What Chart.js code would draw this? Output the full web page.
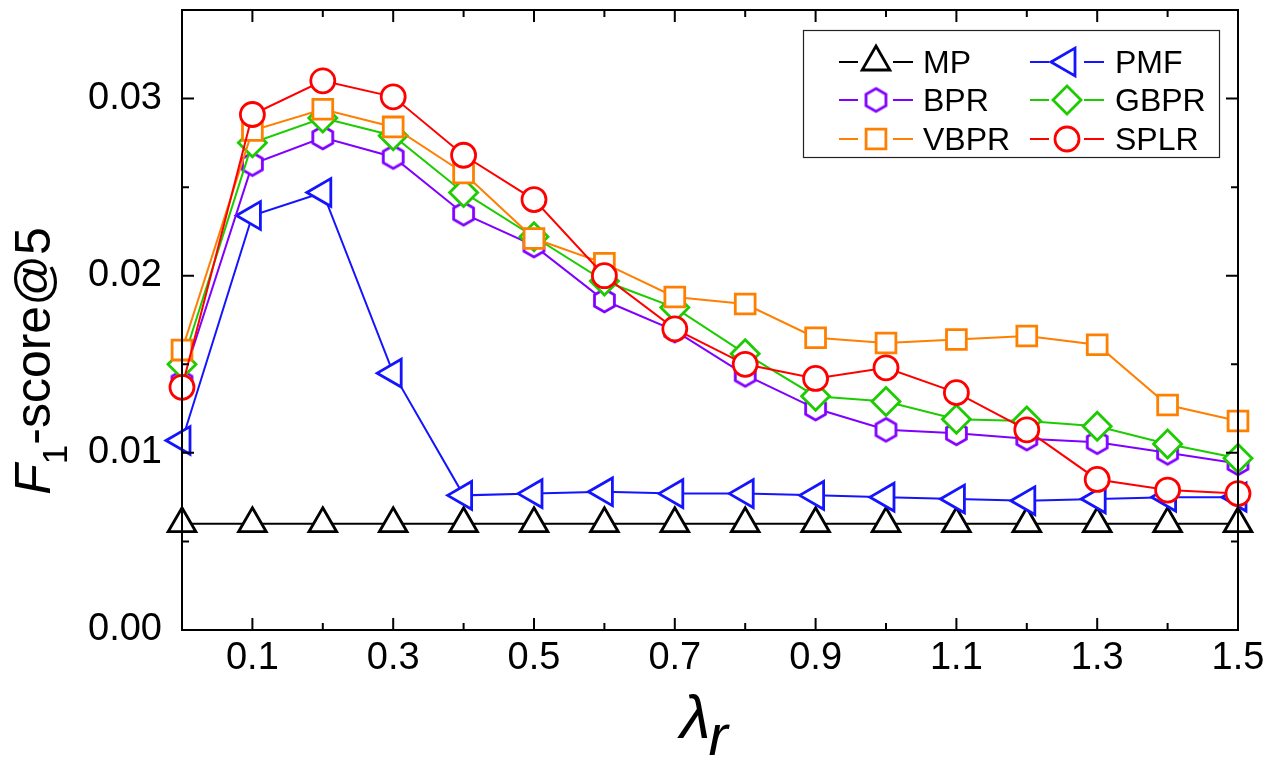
<!DOCTYPE html>
<html>
<head>
<meta charset="utf-8">
<script src="https://cdn.jsdelivr.net/npm/chart.js@4.4.1/dist/chart.umd.min.js"></script>
<style>
  html, body { margin: 0; padding: 0; background: #fff; }
  #wrap { width: 1273px; height: 766px; }
</style>
</head>
<body>
<div id="wrap"><canvas id="grafico" width="1273" height="766"></canvas></div>
<script>
// lambda_r values on the x axis
const lambdas = [0.0, 0.1, 0.2, 0.3, 0.4, 0.5, 0.6, 0.7, 0.8, 0.9, 1.0, 1.1, 1.2, 1.3, 1.4, 1.5];

// F1-score@5 for each method
const mp   = [0.0060, 0.0060, 0.0060, 0.0060, 0.0060, 0.0060, 0.0060, 0.0060, 0.0060, 0.0060, 0.0060, 0.0060, 0.0060, 0.0060, 0.0060, 0.0060];
const pmf  = [0.0107, 0.0234, 0.0247, 0.0145, 0.0076, 0.0077, 0.0078, 0.0077, 0.0077, 0.0076, 0.0075, 0.0074, 0.0073, 0.0074, 0.0075, 0.0075];
const bpr  = [0.0140, 0.0263, 0.0278, 0.0267, 0.0235, 0.0217, 0.0186, 0.0169, 0.0144, 0.0125, 0.0113, 0.0111, 0.0108, 0.0106, 0.0100, 0.0094];
const gbpr = [0.0150, 0.0275, 0.0289, 0.0279, 0.0247, 0.0222, 0.0197, 0.0182, 0.0156, 0.0132, 0.0129, 0.0119, 0.0118, 0.0115, 0.0105, 0.0097];
const vbpr = [0.0158, 0.0282, 0.0294, 0.0284, 0.0258, 0.0221, 0.0207, 0.0188, 0.0184, 0.0165, 0.0162, 0.0164, 0.0166, 0.0161, 0.0127, 0.0118];
const splr = [0.0137, 0.0291, 0.0310, 0.0301, 0.0268, 0.0243, 0.0200, 0.0170, 0.0150, 0.0142, 0.0148, 0.0134, 0.0113, 0.0085, 0.0079, 0.0077];

const xTicks = [0.1, 0.3, 0.5, 0.7, 0.9, 1.1, 1.3, 1.5];
const yTicks = [0.00, 0.01, 0.02, 0.03];

const FONT = "'Liberation Sans', Arial, sans-serif";

// hexagon marker (not built into Chart.js)
function makeHexagon(color, r, lw) {
  const c = document.createElement('canvas');
  const s = Math.ceil(2 * (r + lw));
  c.width = s; c.height = s;
  const g = c.getContext('2d');
  g.beginPath();
  for (let i = 0; i < 6; i++) {
    const a = -Math.PI / 2 + i * Math.PI / 3;
    const px = s / 2 + r * Math.cos(a), py = s / 2 + r * Math.sin(a);
    if (i === 0) g.moveTo(px, py); else g.lineTo(px, py);
  }
  g.closePath();
  g.fillStyle = '#fff';
  g.fill();
  g.lineWidth = lw;
  g.strokeStyle = color;
  g.stroke();
  return c;
}
const hexImg = makeHexagon('#8000ff', 11.5, 2.8);

function serie(label, values, color, style, radius, rotation, order) {
  return {
    label: label,
    data: values.map((v, i) => ({ x: lambdas[i], y: v })),
    borderColor: color,
    borderWidth: 2,
    pointStyle: style,
    pointRadius: radius,
    pointHoverRadius: radius,
    pointRotation: rotation,
    pointBorderColor: color,
    pointBackgroundColor: '#fff',
    pointBorderWidth: 2.8,
    clip: false,
    order: order,
    tension: 0
  };
}

const datasets = [
  serie('MP',   mp,   '#000000', 'triangle', 16, 0,   6),
  serie('PMF',  pmf,  '#1414ff', 'triangle', 16, 270, 5),
  serie('BPR',  bpr,  '#8000ff', hexImg,     12, 0,   4),
  serie('GBPR', gbpr, '#1ccc00', 'rectRot',  14, 0,   3),
  serie('VBPR', vbpr, '#ff7f00', 'rect',     14, 0,   2),
  serie('SPLR', splr, '#ff0000', 'circle',   12, 0,   1)
];

function noPad(s) {
  s.paddingTop = 0; s.paddingBottom = 0; s.paddingLeft = 0; s.paddingRight = 0;
}

// frame, inward ticks, axis titles and legend box
const decorPlugin = {
  id: 'decor',
  afterDraw(chart) {
    const ctx = chart.ctx;
    const a = chart.chartArea;
    const xs = chart.scales.x, ys = chart.scales.y;
    ctx.save();
    ctx.strokeStyle = '#000';
    ctx.lineWidth = 2;
    ctx.strokeRect(a.left, a.top, a.right - a.left, a.bottom - a.top);

    ctx.beginPath();
    for (let i = 1; i < 15; i++) {
      const px = xs.getPixelForValue(i / 10);
      const L = (i % 2 === 1) ? 12 : 7;
      ctx.moveTo(px, a.bottom); ctx.lineTo(px, a.bottom - L);
      ctx.moveTo(px, a.top); ctx.lineTo(px, a.top + L);
    }
    for (let j = 1; j <= 6; j++) {
      const py = ys.getPixelForValue(j * 0.005);
      const L = (j % 2 === 0) ? 12 : 7;
      ctx.moveTo(a.left, py); ctx.lineTo(a.left + L, py);
      ctx.moveTo(a.right, py); ctx.lineTo(a.right - L, py);
    }
    ctx.stroke();

    // y title: F1-score@5
    ctx.fillStyle = '#000';
    ctx.textBaseline = 'alphabetic';
    ctx.textAlign = 'left';
    const fMain = "italic 50px " + FONT, fSub = "35px " + FONT, fTxt = "50px " + FONT;
    ctx.font = fMain; const wF = ctx.measureText('F').width;
    ctx.font = fSub;  const w1 = ctx.measureText('1').width;
    ctx.font = fTxt;  const wT = ctx.measureText('-score@5').width;
    const tot = wF + w1 + wT;
    ctx.save();
    ctx.translate(50, 361);
    ctx.rotate(-Math.PI / 2);
    let cx = -tot / 2;
    ctx.font = fMain; ctx.fillText('F', cx, 0); cx += wF;
    ctx.font = fSub;  ctx.fillText('1', cx, 17); cx += w1;
    ctx.font = fTxt;  ctx.fillText('-score@5', cx, 0);
    ctx.restore();

    // x title: lambda_r
    ctx.font = "italic 62px " + FONT;
    const wl = ctx.measureText('λ').width;
    ctx.fillText('λ', 680, 738);
    ctx.font = "italic 58px " + FONT;
    ctx.fillText('r', 680 + wl - 2, 755);

    // legend
    ctx.fillStyle = '#fff';
    ctx.fillRect(803, 30, 416, 127);
    ctx.lineWidth = 1.2;
    ctx.strokeStyle = '#222';
    ctx.strokeRect(803.5, 30.5, 416, 127);
    const rows = [62, 100, 139];
    const cols = [{ cx: 876, tx: 923 }, { cx: 1067, tx: 1115 }];
    datasets.forEach((d, k) => {
      const col = cols[k % 2], y = rows[Math.floor(k / 2)];
      ctx.strokeStyle = d.borderColor;
      ctx.lineWidth = 2;
      ctx.beginPath();
      ctx.moveTo(col.cx - 37, y); ctx.lineTo(col.cx - 18, y);
      ctx.moveTo(col.cx + 17, y); ctx.lineTo(col.cx + 37, y);
      ctx.stroke();
      ctx.fillStyle = '#fff';
      ctx.lineWidth = d.pointBorderWidth;
      Chart.helpers.drawPoint(ctx, {
        pointStyle: d.pointStyle, rotation: d.pointRotation,
        radius: d.pointRadius, borderWidth: d.pointBorderWidth
      }, col.cx, y);
      ctx.fillStyle = '#000';
      ctx.font = "32px " + FONT;
      ctx.fillText(d.label, col.tx, y + 11);
    });
    ctx.restore();
  }
};

new Chart(document.getElementById('grafico').getContext('2d'), {
  type: 'line',
  data: { datasets: datasets },
  options: {
    responsive: false,
    devicePixelRatio: 1,
    animation: false,
    events: [],
    layout: { autoPadding: false, padding: { top: 10, right: 35, left: 0, bottom: 0 } },
    plugins: { legend: { display: false }, tooltip: { enabled: false } },
    scales: {
      x: {
        type: 'linear', min: 0, max: 1.5,
        afterBuildTicks: s => { s.ticks = xTicks.map(v => ({ value: v })); },
        afterFit: s => { s.height = 136; noPad(s); },
        grid: { display: false, drawTicks: false },
        border: { display: false },
        ticks: { color: '#000', font: { family: FONT, size: 38 }, padding: 6, maxRotation: 0,
                 callback: v => v.toFixed(1) }
      },
      y: {
        min: 0, max: 0.035,
        afterBuildTicks: s => { s.ticks = yTicks.map(v => ({ value: v })); },
        afterFit: s => { s.width = 182; noPad(s); },
        grid: { display: false, drawTicks: false },
        border: { display: false },
        ticks: { color: '#000', font: { family: FONT, size: 38 }, padding: 20,
                 callback: v => v.toFixed(2) }
      }
    }
  },
  plugins: [decorPlugin]
});
</script>
</body>
</html>
